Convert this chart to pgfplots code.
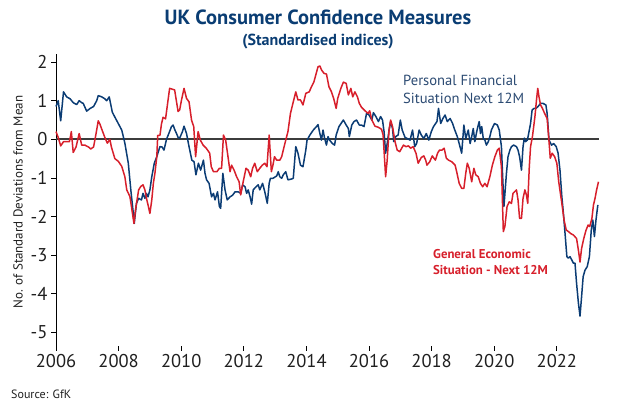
\documentclass[border=0pt]{standalone}
\usepackage{pgfplots}
\pgfplotsset{compat=1.18}
\usepackage{fontspec}
\setmainfont{PT Sans}
\definecolor{navy}{HTML}{0B3C74}
\definecolor{cred}{HTML}{D71F2B}
\definecolor{titleblue}{HTML}{0A3D73}
\definecolor{labblue}{HTML}{2B4A72}
\definecolor{zeroline}{HTML}{3C3C3C}
\begin{document}
\begin{tikzpicture}[x=1pt,y=1pt]
\useasboundingbox (0,0) rectangle (634,402);
\begin{axis}[
  at={(56pt,56.2pt)}, anchor=south west,
  scale only axis, width=543.1pt, height=291.4pt,
  xmin=2006, xmax=2023.35, ymin=-5.35, ymax=2.2,
  axis y line*=left, axis x line*=bottom,
  x axis line style={draw=none},
  y axis line style={line width=0.9pt, black},
  xtick={2006,2008,2010,2012,2014,2016,2018,2020,2022},
  xticklabels={2006,2008,2010,2012,2014,2016,2018,2020,2022},
  ytick={-5,-4,-3,-2,-1,0,1,2},
  yticklabels={-5,-4,-3,-2,-1,0,1,2},
  tick align=outside,
  x tick style={line width=0.8pt, black},
  y tick style={line width=0.8pt, black},
  major tick length=5pt,
  tick label style={font=\fontsize{18.5}{18.5}\selectfont, text=black!88},
  clip=false,
]
\addplot[zeroline, line width=1.9pt, forget plot] coordinates {(2006,0) (2023.35,0)};
\addplot[navy, line width=1.5pt, line join=round] coordinates {
(2006.00,0.85) (2006.07,1.0) (2006.15,0.48) (2006.24,1.23) (2006.34,1.1) (2006.45,1.05)
(2006.55,0.95) (2006.66,0.9) (2006.74,1.0) (2006.82,0.95) (2006.87,0.93) (2006.98,0.73)
(2007.09,0.8) (2007.20,0.85) (2007.30,1.0) (2007.35,1.13) (2007.46,1.1) (2007.56,1.05)
(2007.62,1.0) (2007.70,1.1) (2007.80,0.7) (2007.93,0.5)
(2008.10,0.24) (2008.20,-0.10) (2008.31,-0.62) (2008.39,-1.31) (2008.47,-1.92) (2008.50,-2.18)
(2008.57,-1.66) (2008.64,-1.53) (2008.73,-1.57) (2008.78,-1.40) (2008.84,-1.53) (2008.89,-1.40)
(2008.94,-1.49) (2009.00,-1.31) (2009.06,-0.97) (2009.14,-0.62) (2009.22,-0.45) (2009.32,-0.19)
(2009.39,-0.20) (2009.45,-0.28) (2009.53,0.0) (2009.58,0.10) (2009.69,0.33) (2009.74,0.37)
(2009.79,0.26) (2009.85,0.15) (2009.90,0.05) (2009.95,0.03)
(2010.04,0.20) (2010.09,0.34) (2010.17,0.15) (2010.25,-0.19) (2010.34,-0.54) (2010.41,-0.58)
(2010.47,-0.92) (2010.55,-0.62) (2010.62,-0.80) (2010.71,-0.54) (2010.76,-0.88) (2010.81,-1.05)
(2010.89,-1.14) (2010.97,-1.49) (2011.03,-1.40) (2011.08,-1.57) (2011.16,-1.36) (2011.22,-1.74)
(2011.26,-1.79) (2011.33,-0.88) (2011.40,-1.31) (2011.47,-1.57) (2011.56,-1.49) (2011.64,-1.45)
(2011.72,-1.36) (2011.82,-1.36) (2011.90,-1.40) (2011.96,-1.18) (2012.04,-1.23) (2012.09,-1.40)
(2012.14,-1.31) (2012.20,-1.49) (2012.25,-1.68) (2012.30,-1.31) (2012.39,-1.23) (2012.46,-1.18)
(2012.51,-1.31) (2012.60,-1.14) (2012.67,-1.36) (2012.75,-1.66) (2012.81,-1.14) (2012.85,-1.01)
(2012.93,-1.01) (2013.05,-0.95) (2013.10,-0.84) (2013.15,-0.97) (2013.21,-1.01) (2013.26,-0.92)
(2013.34,-0.84) (2013.41,-1.05) (2013.52,-1.03) (2013.58,-1.01) (2013.66,-0.19) (2013.73,-0.36)
(2013.81,-0.67) (2013.89,-0.71) (2013.98,-0.28) (2014.02,-0.02) (2014.11,0.11) (2014.22,0.24)
(2014.32,0.33) (2014.37,0.38) (2014.43,0.15) (2014.48,-0.02) (2014.53,0.24) (2014.58,0.03)
(2014.64,-0.15) (2014.69,0.07) (2014.74,-0.02) (2014.83,-0.11) (2014.90,-0.15) (2014.95,0.11)
(2015.04,0.33) (2015.18,0.50) (2015.27,0.37) (2015.34,0.28) (2015.37,0.07) (2015.45,0.37)
(2015.52,0.46) (2015.60,0.50) (2015.69,0.37) (2015.76,0.37) (2015.84,0.33) (2015.92,0.67)
(2016.00,0.63) (2016.09,0.50) (2016.14,0.69) (2016.22,0.59) (2016.30,0.46) (2016.37,0.59)
(2016.43,0.50) (2016.48,0.20) (2016.53,-0.36) (2016.58,-0.11) (2016.64,0.24) (2016.69,0.46)
(2016.75,0.28) (2016.79,-0.06) (2016.85,0.07) (2016.93,0.11) (2017.00,0.50) (2017.06,0.24)
(2017.15,0.05) (2017.22,0.02) (2017.31,-0.02) (2017.39,0.24) (2017.46,-0.19) (2017.52,-0.11)
(2017.60,0.24) (2017.67,0.11) (2017.75,0.02) (2017.83,0.15) (2017.91,-0.02) (2017.99,0.20)
(2018.06,0.33) (2018.17,0.46) (2018.22,0.80) (2018.29,0.41) (2018.36,0.54) (2018.43,0.63)
(2018.50,0.46) (2018.59,0.54) (2018.67,0.41) (2018.74,0.24) (2018.82,0.07) (2018.88,-0.11)
(2018.96,-0.36) (2019.03,0.37) (2019.09,0.02) (2019.17,0.24) (2019.23,-0.11) (2019.28,0.07)
(2019.33,0.28) (2019.38,-0.06) (2019.44,0.20) (2019.49,0.37) (2019.52,0.46) (2019.56,0.15)
(2019.60,0.33) (2019.65,0.02) (2019.70,-0.02) (2019.75,-0.15) (2019.81,-0.06) (2019.86,0.07)
(2019.91,0.24) (2019.96,0.33) (2020.01,0.41) (2020.10,0.37) (2020.16,0.24) (2020.23,-0.19)
(2020.26,-0.80) (2020.31,-1.74) (2020.35,-1.31) (2020.39,-0.88) (2020.44,-0.45) (2020.50,-0.28)
(2020.55,-0.19) (2020.62,-0.15) (2020.71,-0.19) (2020.76,-0.28) (2020.81,-0.45) (2020.87,-0.80)
(2020.92,-0.19) (2020.96,0.03) (2021.00,-0.06) (2021.06,-0.02) (2021.10,0.15) (2021.16,0.41)
(2021.21,0.76) (2021.27,0.80) (2021.33,0.80) (2021.40,0.85) (2021.48,0.93) (2021.56,0.93)
(2021.65,0.89) (2021.69,0.67) (2021.75,-0.02) (2021.83,-0.15) (2021.90,-0.11) (2021.98,-0.19)
(2022.04,-0.36) (2022.10,-0.80) (2022.16,-1.49) (2022.21,-1.92) (2022.27,-2.52) (2022.32,-3.04)
(2022.37,-3.08) (2022.42,-3.04) (2022.48,-3.13) (2022.53,-3.21) (2022.58,-3.21) (2022.63,-3.73)
(2022.69,-4.25) (2022.74,-4.58) (2022.79,-4.08) (2022.84,-3.56) (2022.90,-3.39) (2022.97,-3.30)
(2023.04,-3.04) (2023.10,-2.35) (2023.15,-2.09) (2023.20,-2.52) (2023.25,-2.09) (2023.31,-1.70)
};
\addplot[cred, line width=1.5pt, line join=round] coordinates {
(2006.00,0.20) (2006.07,0.05) (2006.15,-0.17) (2006.24,-0.06) (2006.34,-0.06) (2006.43,-0.06)
(2006.49,0.20) (2006.55,-0.34) (2006.64,-0.20) (2006.74,0.15) (2006.82,-0.15) (2006.92,-0.15)
(2007.04,-0.20) (2007.11,-0.25) (2007.20,-0.20) (2007.28,0.15) (2007.35,0.48) (2007.40,0.40)
(2007.49,0.20) (2007.56,0.05) (2007.64,-0.10) (2007.72,0.00) (2007.77,-0.20) (2007.88,-0.50)
(2007.99,-0.57) (2008.10,-0.70) (2008.20,-0.97) (2008.26,-1.31) (2008.36,-1.48) (2008.41,-1.74)
(2008.49,-2.18) (2008.54,-1.83) (2008.59,-1.57) (2008.64,-1.31) (2008.71,-1.22) (2008.78,-1.18)
(2008.84,-1.31) (2008.89,-1.53) (2008.94,-1.70) (2009.00,-1.92) (2009.06,-1.57) (2009.11,-1.14)
(2009.16,-0.88) (2009.22,-0.45) (2009.25,0.10) (2009.32,0.10) (2009.37,0.40) (2009.42,0.57)
(2009.50,0.53) (2009.58,1.02) (2009.63,1.32) (2009.71,1.30) (2009.79,1.28) (2009.90,0.72)
(2009.95,0.76) (2010.01,1.02) (2010.09,1.32) (2010.17,1.06) (2010.25,0.97) (2010.33,0.50)
(2010.40,0.33) (2010.46,-0.45) (2010.54,0.20) (2010.61,-0.02) (2010.70,-0.15) (2010.80,-0.23)
(2010.91,-0.36) (2010.96,-0.71) (2011.03,-0.84) (2011.14,-0.84) (2011.22,-0.75) (2011.29,-0.75)
(2011.35,0.11) (2011.42,-0.02) (2011.51,-0.54) (2011.56,-0.84) (2011.61,-0.67) (2011.69,-0.80)
(2011.77,-0.97) (2011.85,-1.10) (2011.90,-1.44) (2011.98,-1.10) (2012.07,-0.75) (2012.14,-0.80)
(2012.22,-0.97) (2012.28,-0.75) (2012.35,-0.62) (2012.43,-0.84) (2012.51,-0.75) (2012.59,-0.67)
(2012.67,-0.62) (2012.74,-0.71) (2012.81,0.11) (2012.88,-0.84) (2012.93,-0.67) (2012.98,-0.45)
(2013.05,-0.54) (2013.15,-0.54) (2013.21,-0.45) (2013.26,-0.28) (2013.34,-0.02) (2013.41,0.20)
(2013.49,0.67) (2013.58,0.97) (2013.66,1.23) (2013.73,1.02) (2013.81,1.02) (2013.89,0.89)
(2013.98,1.19) (2014.09,1.23) (2014.16,1.36) (2014.24,1.49) (2014.30,1.67) (2014.37,1.88)
(2014.43,1.90) (2014.48,1.80) (2014.56,1.71) (2014.64,1.69) (2014.72,1.36) (2014.80,1.23)
(2014.87,1.06) (2014.95,0.80) (2015.00,1.06) (2015.10,1.32) (2015.18,1.48) (2015.27,1.45)
(2015.34,1.15) (2015.42,1.32) (2015.48,1.10) (2015.55,1.23) (2015.63,1.10) (2015.69,0.93)
(2015.76,0.83) (2015.87,0.74) (2015.97,0.67) (2016.02,0.74) (2016.09,0.50) (2016.19,0.34)
(2016.30,0.31) (2016.40,0.26) (2016.45,0.11) (2016.53,-0.97) (2016.58,-0.54) (2016.64,0.24)
(2016.69,0.50) (2016.75,0.33) (2016.83,-0.06) (2016.90,-0.28) (2016.98,-0.32) (2017.10,-0.15)
(2017.18,-0.19) (2017.26,-0.17) (2017.33,-0.23) (2017.41,-0.19) (2017.50,-0.36) (2017.57,-0.62)
(2017.67,-0.47) (2017.75,-0.43) (2017.81,-0.54) (2017.85,-0.67) (2017.94,-0.58) (2018.02,-0.43)
(2018.12,-0.54) (2018.19,-0.36) (2018.25,-0.28) (2018.33,-0.28) (2018.40,-0.23) (2018.47,-0.49)
(2018.54,-0.54) (2018.64,-0.58) (2018.75,-0.67) (2018.80,-0.84) (2018.88,-1.14) (2018.96,-1.27)
(2019.03,-1.27) (2019.09,-0.88) (2019.14,-0.62) (2019.20,-0.75) (2019.28,-1.10) (2019.35,-0.75)
(2019.41,-0.92) (2019.49,-0.97) (2019.56,-1.14) (2019.63,-1.23) (2019.70,-1.14) (2019.77,-1.23)
(2019.86,-0.97) (2019.94,-0.67) (2020.02,-0.45) (2020.10,-0.28) (2020.16,-0.23) (2020.23,-0.71)
(2020.29,-2.39) (2020.34,-2.26) (2020.41,-1.74) (2020.48,-1.62) (2020.55,-1.66) (2020.60,-1.40)
(2020.65,-1.36) (2020.71,-1.31) (2020.76,-1.57) (2020.81,-2.05) (2020.87,-2.05) (2020.92,-1.53)
(2020.98,-1.31) (2021.03,-1.45) (2021.07,-1.66) (2021.12,-0.71) (2021.16,-0.19) (2021.22,0.07)
(2021.30,0.59) (2021.35,1.02) (2021.39,1.32) (2021.43,1.10) (2021.48,0.89) (2021.54,0.80)
(2021.61,0.67) (2021.69,0.54) (2021.75,-0.06) (2021.79,-0.49) (2021.85,-0.36) (2021.93,-0.45)
(2022.00,-0.62) (2022.06,-1.10) (2022.16,-1.66) (2022.23,-2.09) (2022.30,-2.35) (2022.37,-2.39)
(2022.44,-2.44) (2022.53,-2.48) (2022.63,-2.57) (2022.69,-2.88) (2022.74,-3.18) (2022.79,-2.83)
(2022.86,-2.57) (2022.93,-2.36) (2023.00,-2.22) (2023.05,-2.26) (2023.12,-2.05) (2023.17,-1.70)
(2023.22,-1.53) (2023.27,-1.31) (2023.33,-1.10)
};
\end{axis}
\node[font=\bfseries\fontsize{20.5}{20.5}\selectfont, text=titleblue] at (318,385) {UK Consumer Confidence Measures};
\node[font=\bfseries\fontsize{16}{16}\selectfont, text=titleblue] at (318,360) {(Standardised indices)};
\node[rotate=90, font=\fontsize{13}{13}\selectfont, text=black!88] at (18,200) {No. of Standard Deviations from Mean};
\node[anchor=west, font=\fontsize{12}{12}\selectfont, text=black!88, inner sep=0pt] at (11,8) {Source: GfK};
\node[anchor=west, font=\fontsize{14.6}{14.6}\selectfont, text=labblue, inner sep=0pt] at (403,321.3) {Personal Financial};
\node[anchor=west, font=\fontsize{14.6}{14.6}\selectfont, text=labblue, inner sep=0pt] at (403,303.7) {Situation Next 12M};
\node[anchor=west, font=\bfseries\fontsize{12.8}{12.8}\selectfont, text=cred, inner sep=0pt] at (433,148) {General Economic};
\node[anchor=west, font=\bfseries\fontsize{12.8}{12.8}\selectfont, text=cred, inner sep=0pt] at (433,132) {Situation - Next 12M};
\end{tikzpicture}
\end{document}
